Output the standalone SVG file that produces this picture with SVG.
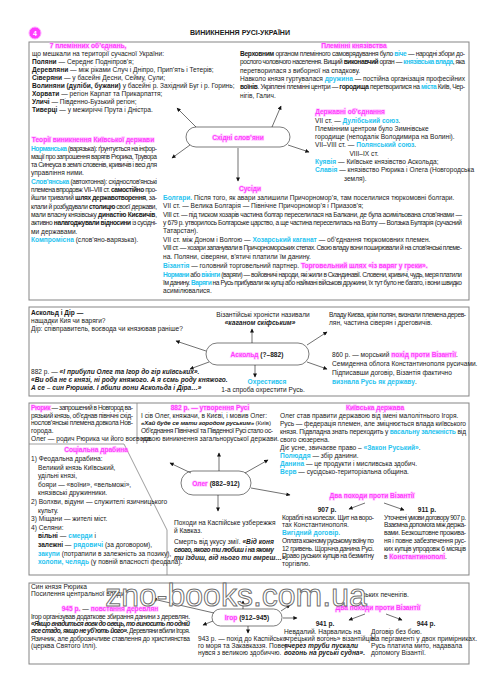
<svg xmlns="http://www.w3.org/2000/svg" width="495" height="700" viewBox="0 0 495 700">
<style>
text{font-family:"Liberation Sans Narrow","Arial Narrow","Liberation Sans",Arial,sans-serif;font-size:6.6px;fill:#1a1a1a}
.b{font-weight:bold}
.bi{font-weight:bold;font-style:italic}
.c{fill:#27c3ef;font-weight:bold}
.m{fill:#ff3dff;font-weight:bold;stroke:#ffa8ff;stroke-width:1.4px;stroke-opacity:.55;paint-order:stroke}
.mid{text-anchor:middle}
.box{fill:none;stroke:#858585;stroke-width:1}
.sep{fill:none;stroke:#858585;stroke-width:.8}
.node rect{fill:#fff;stroke:#444;stroke-width:.7}
.conn line{stroke:#111;stroke-width:.6;fill:none;marker-end:url(#ah)}
.wm{font-family:"Liberation Sans",Arial,sans-serif;font-size:32px;fill:#fff;stroke:#555;stroke-width:1;stroke-opacity:.85}
</style>
<defs>
<marker id="ah" viewBox="0 0 10 10" refX="9" refY="5" markerWidth="5" markerHeight="4" markerUnits="userSpaceOnUse" orient="auto"><path d="M0,0 L10,5 L0,10 z" fill="#111"/></marker>
</defs>
<rect width="495" height="700" fill="#fff"/>

<g id="header">
<circle cx="35" cy="33" r="6" fill="#ff3dff" stroke="#ffa8ff" stroke-width="1"/>
<text x="35" y="35.5" class="mid b" style="fill:#fff;font-size:7px">4</text>
<text x="240" y="35" class="mid b" style="font-family:'Liberation Sans',Arial,sans-serif;font-size:6.6px" textLength="100" lengthAdjust="spacingAndGlyphs">ВИНИКНЕННЯ РУСІ-УКРАЇНИ</text>
</g>

<g id="box-tribes">
<rect class="box" x="29" y="42" width="440" height="258"/>
<text x="88" y="48" class="mid m">7 племінних об’єднань,</text>
<text x="32" y="56">що мешкали на території сучасної України:</text>
<text x="32" y="64"><tspan class="b">Поляни</tspan> — Середнє Подніпров’я;</text>
<text x="32" y="72"><tspan class="b">Деревляни</tspan> — між ріками Случ і Дніпро, Прип’ять і Тетерів;</text>
<text x="32" y="80"><tspan class="b">Сіверяни</tspan> — у басейні Десни, Сейму, Сули;</text>
<text x="32" y="88"><tspan class="b">Волиняни (дуліби, бужани)</tspan> у басейні р. Західний Буг і р. Горинь;</text>
<text x="32" y="96"><tspan class="b">Хорвати</tspan> — регіон Карпат та Прикарпаття;</text>
<text x="32" y="104"><tspan class="b">Уличі</tspan> — Південно-Бузький регіон;</text>
<text x="32" y="112"><tspan class="b">Тиверці</tspan> — у межиріччі Прута і Дністра.</text>

<text x="354" y="48" class="mid m">Племінні князівства</text>
<text x="240" y="56" textLength="225" lengthAdjust="spacing"><tspan class="b">Верховним</tspan> органом племінного самоврядування було <tspan class="c">віче</tspan> — народні збори до-</text>
<text x="240" y="64.3" textLength="225" lengthAdjust="spacing">рослого чоловічого населення. Вищий <tspan class="b">виконавчий</tspan> орган — <tspan class="c">князівська влада</tspan>, яка</text>
<text x="240" y="72.6">перетворилася з виборної на спадкову.</text>
<text x="240" y="80.9" textLength="225" lengthAdjust="spacing">Навколо князя гуртувалася <tspan class="c">дружина</tspan> — постійна організація професійних</text>
<text x="240" y="89.2" textLength="225" lengthAdjust="spacing"><tspan class="b">воїнів</tspan>. Укріплені племінні центри — <tspan class="b">городища</tspan> перетворилися на <tspan class="c">міста</tspan> Київ, Чер-</text>
<text x="240" y="97.5">нігів, Галич.</text>

<text x="350" y="114" class="mid m">Державні об’єднання</text>
<text x="315" y="122.5">VII ст. — <tspan class="c">Дулібський союз</tspan>.</text>
<text x="315" y="130.8">Племінним центром було Зимнівське</text>
<text x="315" y="139.1">городище (неподалік Володимира на Волині).</text>
<text x="315" y="147.4">VII–VIII ст. — <tspan class="c">Полянський союз</tspan>.</text>
<text x="364" y="155.7" class="mid">VIII–IX ст.</text>
<text x="315" y="164"><tspan class="c">Куявія</tspan> — Київське князівство Аскольда;</text>
<text x="315" y="172.3"><tspan class="c">Славія</tspan> — князівство Рюрика і Олега (Новгородська</text>
<text x="344" y="180.6">земля).</text>

<text x="93" y="142" class="mid m">Теорії виникнення Київської держави</text>
<text x="31" y="150.5" textLength="126" lengthAdjust="spacing"><tspan class="c">Норманська</tspan> (варязька): ґрунтується на інфор-</text>
<text x="31" y="158.8" textLength="126" lengthAdjust="spacing">мації про запрошення варягів Рюрика, Трувора</text>
<text x="31" y="167.1" textLength="126" lengthAdjust="spacing">та Синеуса в землі словенів, кривичів і весі для</text>
<text x="31" y="175.4">управління ними.</text>
<text x="31" y="183.7" textLength="126" lengthAdjust="spacing"><tspan class="c">Слов’янська</tspan> (автохтонна): східнослов’янські</text>
<text x="31" y="192" textLength="126" lengthAdjust="spacing">племена впродовж VII–VIII ст. <tspan class="b">самостійно</tspan> про-</text>
<text x="31" y="200.3" textLength="126" lengthAdjust="spacing">йшли тривалий <tspan class="b">шлях державотворення</tspan>, за-</text>
<text x="31" y="208.6" textLength="126" lengthAdjust="spacing">клали й розбудували <tspan class="b">столицю</tspan> своєї держави,</text>
<text x="31" y="216.9" textLength="126" lengthAdjust="spacing">мали власну князівську <tspan class="b">династію Києвичів</tspan>,</text>
<text x="31" y="225.2" textLength="126" lengthAdjust="spacing">активно <tspan class="b">налагоджували відносини</tspan> із сусідні-</text>
<text x="31" y="233.5">ми державами.</text>
<text x="31" y="241.8"><tspan class="c">Компромісна</tspan> (слов’яно-варязька).</text>

<text x="250" y="191" class="mid m">Сусіди</text>
<text x="163" y="200"><tspan class="c">Болгари.</tspan> Після того, як авари залишили Причорномор’я, там поселилися тюркомовні болгари.</text>
<text x="163" y="208.3">VII ст. — Велика Болгарія — Північне Причорномор’я і Приазов’я;</text>
<text x="163" y="216.6" textLength="299" lengthAdjust="spacing">VIII ст. — під тиском хозарів частина болгар переселилася на Балкани, де була асимільована слов’янами —</text>
<text x="163" y="224.9" textLength="299" lengthAdjust="spacing">у 679 р. утворилось Болгарське царство, а ще частина переселилась на Волгу — Волзька Булгарія (сучасний</text>
<text x="163" y="233.2">Татарстан).</text>
<text x="163" y="242">VII ст. між Доном і Волгою — <tspan class="c">Хозарський каганат</tspan> — об’єднання тюркомовних племен.</text>
<text x="163" y="250.3" textLength="299" lengthAdjust="spacing">VIII ст. — хозари запанували в Причорноморських степах. Свою владу вони поширювали й на слов’янські племе-</text>
<text x="163" y="258.6">на. Поляни, сіверяни, в’ятичі платили їм данину.</text>
<text x="163" y="267.5"><tspan class="c">Візантія</tspan> — головний торговельний партнер. <tspan class="m">Торговельний шлях «із варяг у греки».</tspan></text>
<text x="163" y="276.5" textLength="299" lengthAdjust="spacing"><tspan class="c">Нормани</tspan> або <tspan class="c">вікінги</tspan> (варяги) — войовничі народи, які жили в Скандинавії. Словени, кривичі, чудь, меря платили</text>
<text x="163" y="284.8" textLength="299" lengthAdjust="spacing">їм данину. <tspan class="c">Варяги</tspan> на Русь прибували як купці або наймані військові дружини, їх тут було не багато, і вони швидко</text>
<text x="163" y="293.1">асимілювалися.</text>
</g>

<g id="node-slavs" class="node">
<rect x="186" y="127" width="104" height="20" rx="10"/>
<text x="238" y="139.5" class="mid m">Східні слов’яни</text>
</g>

<g id="box-askold">
<rect class="box" x="29" y="307" width="440" height="89"/>
<text x="31" y="315" class="b">Аскольд і Дір —</text>
<text x="31" y="323">нащадки Кия чи варяги?</text>
<text x="31" y="331">Дір: співправитель, воєвода чи князював раніше?</text>
<text x="263" y="317" class="mid">Візантійські хроністи називали</text>
<text x="260" y="325" class="mid bi">«каганом скіфським»</text>
<text x="329" y="317" textLength="137" lengthAdjust="spacing">Владу Києва, крім полян, визнали племена дерев-</text>
<text x="329" y="325">лян, частина сіверян і дреговичів.</text>
<text x="31" y="374">882 р. — <tspan class="bi">«І прибули Олег та Ігор до гір київських».</tspan></text>
<text x="31" y="382" class="bi">«Ви оба не є князі, ні роду княжого. А я єсмь роду княжого.</text>
<text x="31" y="390" class="bi">А се – син Рюриків. І вбили вони Аскольда і Діра…»</text>
<text x="267" y="384" class="mid c">Охрестився</text>
<text x="263" y="392" class="mid">1-а спроба охрестити Русь.</text>
<text x="332" y="357">860 р. — морський <tspan class="m">похід проти Візантії</tspan>.</text>
<text x="332" y="366">Семиденна облога Константинополя русичами.</text>
<text x="332" y="375">Підписавши договір, Візантія фактично</text>
<text x="332" y="384"><tspan class="c">визнала Русь як державу</tspan>.</text>
</g>

<g id="node-askold" class="node">
<rect x="206" y="343" width="103" height="22" rx="11"/>
<text x="257" y="356.5" class="mid"><tspan class="m">Аскольд</tspan><tspan class="b"> (?–882)</tspan></text>
</g>

<g id="box-oleg">
<rect class="box" x="29" y="403" width="440" height="172"/>
<line class="sep" x1="137" y1="403" x2="137" y2="444"/>
<path class="sep" d="M29,444 L124,444 L167,530 L167,575"/>
<text x="31" y="410" textLength="102" lengthAdjust="spacing"><tspan class="m">Рюрик</tspan> — запрошений в Новгород ва-</text>
<text x="31" y="417.7" textLength="102" lengthAdjust="spacing">рязький князь, об’єднав північні схід-</text>
<text x="31" y="425.4" textLength="102" lengthAdjust="spacing">нослов’янські племена довкола Нов-</text>
<text x="31" y="433.1">города.</text>
<text x="31" y="440.8">Олег — родич Рюрика чи його воєвода.</text>

<text x="96" y="452" class="mid m">Соціальна драбина</text>
<text x="31" y="461">1) Феодальна драбина:</text>
<text x="38" y="469.6">Великий князь Київський,</text>
<text x="38" y="478.2">удільні князі,</text>
<text x="38" y="486.8">бояри — «воїни», «вельможі»,</text>
<text x="38" y="495.4">князівські дружинники.</text>
<text x="31" y="504">2) Волхви, відуни — служителі язичницького</text>
<text x="38" y="512.6">культу.</text>
<text x="31" y="521.2">3) Міщани — жителі міст.</text>
<text x="31" y="529.8">4) Селяни:</text>
<text x="38" y="538.4"><tspan class="b">вільні</tspan> — <tspan class="c">смерди</tspan> і</text>
<text x="38" y="547"><tspan class="b">залежні</tspan> — <tspan class="c">рядовичі</tspan> (за договором),</text>
<text x="38" y="555.6"><tspan class="c">закупи</tspan> (потрапили в залежність за позику),</text>
<text x="38" y="564.2"><tspan class="c">холопи, челядь</tspan> (у повній власності феодала).</text>

<text x="210" y="409.5" class="mid m">882 р. — утворення Русі</text>
<text x="141" y="417.5">І сів Олег, княжачи, в Києві, і мовив Олег:</text>
<text x="141" y="425.2" style="font-size:6.2px" textLength="130" lengthAdjust="spacing"><tspan class="bi">«Хай буде се мати городом руським»</tspan> (Київ)</text>
<text x="141" y="432.9" textLength="132" lengthAdjust="spacing">Об’єднання Північної та Південної Русі стало ос-</text>
<text x="141" y="440.6">новою виникнення загальноруської держави.</text>

<text x="375" y="409.5" class="mid m">Київська держава</text>
<text x="280" y="417.5">Олег став правити державою від імені малолітнього Ігоря.</text>
<text x="280" y="425.5" textLength="186" lengthAdjust="spacing">Русь — федерація племен, але зміцнюється влада київського</text>
<text x="280" y="433.5" textLength="186" lengthAdjust="spacing">князя. Підвладна знать переходить у <tspan class="c">васальну залежність</tspan> від</text>
<text x="280" y="441.5">свого сюзерена.</text>
<text x="280" y="449.5">Діє усне, звичаєве право – <tspan class="c">«Закон Руський»</tspan>.</text>
<text x="280" y="457.5"><tspan class="c">Полюддя</tspan> — збір данини.</text>
<text x="280" y="465.5"><tspan class="c">Данина</tspan> — це продукти і мисливська здобич.</text>
<text x="280" y="473.5"><tspan class="c">Верв</tspan> — сусідсько-територіальна община.</text>

<text x="174" y="525">Походи на Каспійське узбережжя</text>
<text x="174" y="533">й Кавказ.</text>
<text x="174" y="544" textLength="100" lengthAdjust="spacing">Смерть від укусу змії. <tspan class="bi">«Від коня</tspan></text>
<text x="174" y="552" class="bi" textLength="100" lengthAdjust="spacing">свого, якого ти любиш і на якому</text>
<text x="174" y="560" class="bi">ти їздиш, від нього ти вмреш…».</text>

<text x="372" y="498" class="mid m">Два походи проти Візантії</text>
<text x="327" y="512" class="mid b">907 р.</text>
<text x="427" y="512" class="mid b">911 р.</text>
<text x="282" y="519.5" textLength="92" lengthAdjust="spacing">Кораблі на колесах. Щит на воро-</text>
<text x="282" y="527">тах Константинополя.</text>
<text x="282" y="535" class="c">Вигідний договір.</text>
<text x="282" y="543" textLength="92" lengthAdjust="spacing">Оплата кожному руському воїну по</text>
<text x="282" y="550.5" textLength="92" lengthAdjust="spacing">12 гривень. Щорічна данина Русі.</text>
<text x="282" y="558" textLength="92" lengthAdjust="spacing">Право руських купців на безмитну</text>
<text x="282" y="566">торгівлю.</text>
<text x="384" y="519.5" textLength="82" lengthAdjust="spacing">Уточнені умови договору 907 р.</text>
<text x="384" y="527" textLength="82" lengthAdjust="spacing">Взаємна допомога між держа-</text>
<text x="384" y="535" textLength="82" lengthAdjust="spacing">вами. Безкоштовне прожива-</text>
<text x="384" y="543" textLength="82" lengthAdjust="spacing">ня і повне забезпечення рус-</text>
<text x="384" y="550.5" textLength="82" lengthAdjust="spacing">ких купців упродовж 6 місяців</text>
<text x="384" y="558.5">в <tspan class="m">Константинополі</tspan>.</text>
</g>

<g id="node-oleg" class="node">
<rect x="181" y="471" width="70" height="24" rx="12"/>
<text x="216" y="485.5" class="mid"><tspan class="m">Олег</tspan><tspan class="b"> (882–912)</tspan></text>
</g>

<g id="box-igor">
<rect class="box" x="29" y="583" width="440" height="81"/>
<text x="31" y="589">Син князя Рюрика</text>
<text x="31" y="596">Посилення центральної влади</text>
<text x="362" y="597">ських печенігів.</text>
<text x="110" y="611" class="mid"><tspan class="m">945 р.</tspan> — <tspan class="m">повстання деревлян</tspan></text>
<text x="31" y="619" textLength="159" lengthAdjust="spacing">Ігор організував додаткове збирання данини з деревлян.</text>
<text x="31" y="626" class="bi" textLength="159" lengthAdjust="spacing">«Якщо внадиться вовк до овець, то виносить по одній</text>
<text x="31" y="633" textLength="159" lengthAdjust="spacing"><tspan class="bi">все стадо, якщо не уб’ють його».</tspan> Деревляни вбили Ігоря.</text>
<text x="31" y="640.5" textLength="159" lengthAdjust="spacing">Язичник, але доброзичливе ставлення до християнства</text>
<text x="31" y="647.5">(церква Святого Іллі).</text>
<text x="198" y="641">943 р. — похід до Каспійсько-</text>
<text x="198" y="648">го моря та Закавказзя. Повер-</text>
<text x="198" y="655">нувся з великою здобиччю.</text>
<text x="378" y="610" class="mid m">Два походи проти Візантії</text>
<text x="325" y="626" class="mid b">941 р.</text>
<text x="426" y="626" class="mid b">944 р.</text>
<text x="284" y="633.5">Невдалий. Нарвались на</text>
<text x="284" y="640.5">«грецький вогонь» візантійців:</text>
<text x="284" y="647.5" class="bi">«через труби пускали</text>
<text x="284" y="654.5" class="bi">вогонь на руські судна».</text>
<text x="371" y="633.5">Договір без бою.</text>
<text x="371" y="640.5">На пергаменті у двох примірниках.</text>
<text x="371" y="647.5">Русь платила мито, надавала</text>
<text x="371" y="654.5">допомогу Візантії.</text>
</g>

<g id="node-igor" class="node">
<rect x="212" y="609" width="70" height="17" rx="8.5"/>
<text x="247" y="620" class="mid"><tspan class="m">Ігор</tspan><tspan class="b"> (912–945)</tspan></text>
</g>

<g id="connectors" class="conn">
<line x1="196" y1="127" x2="177" y2="108"/>
<line x1="272" y1="127" x2="281" y2="106"/>
<line x1="190" y1="145" x2="172" y2="158"/>
<line x1="288" y1="145" x2="309" y2="152"/>
<line x1="238" y1="148" x2="238" y2="181"/>
<line x1="206" y1="351" x2="176" y2="341"/>
<line x1="252" y1="343" x2="252" y2="329"/>
<line x1="307" y1="345" x2="327" y2="332"/>
<line x1="307" y1="362" x2="327" y2="369"/>
<line x1="255" y1="365" x2="255" y2="377"/>
<line x1="209" y1="362" x2="190" y2="369"/>
<line x1="219" y1="471" x2="219" y2="453"/>
<line x1="191" y1="473" x2="170" y2="463"/>
<line x1="245" y1="473" x2="268" y2="460"/>
<line x1="251" y1="488" x2="290" y2="495"/>
<line x1="218" y1="495" x2="218" y2="511"/>
<line x1="365" y1="503" x2="349" y2="509"/>
<line x1="384" y1="503" x2="404" y2="510"/>
<line x1="283" y1="618" x2="297" y2="618"/>
<line x1="281" y1="611" x2="290" y2="605"/>
<line x1="248" y1="626" x2="248" y2="633"/>
<line x1="213" y1="621" x2="203" y2="625"/>
<line x1="214" y1="613" x2="153" y2="599"/>
<line x1="243" y1="609" x2="243" y2="601"/>
<line x1="365" y1="614" x2="349" y2="620"/>
<line x1="386" y1="614" x2="402" y2="620"/>
</g>

<g id="watermark">
<text x="236" y="606" class="wm mid">zno-books.com.ua</text>
</g>
</svg>
